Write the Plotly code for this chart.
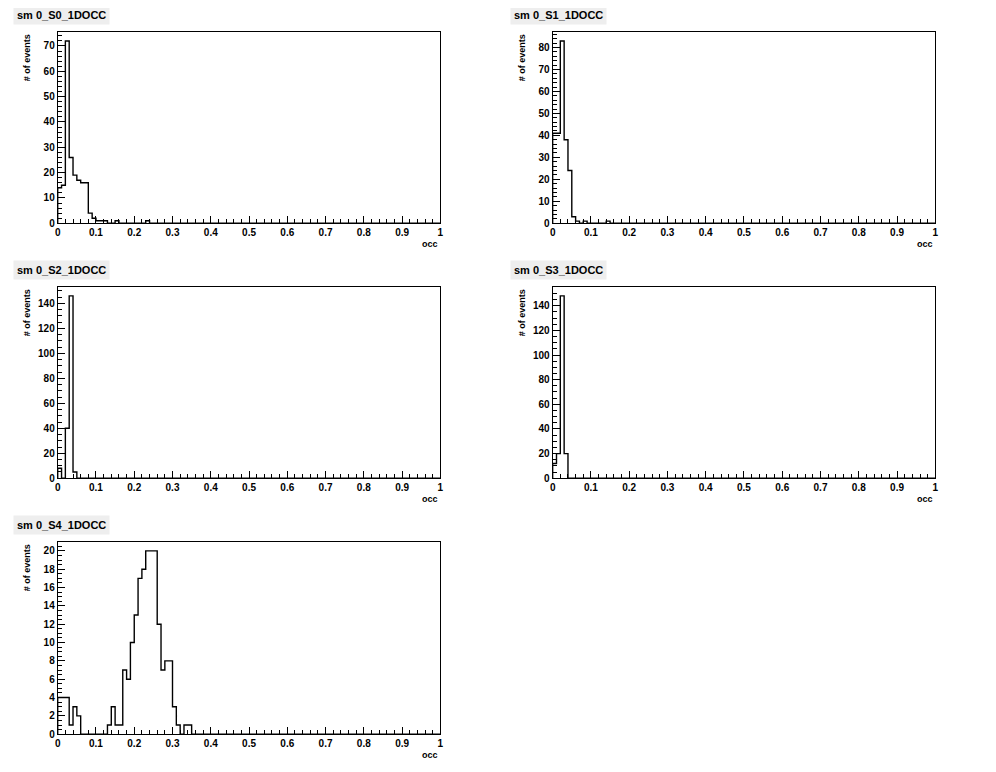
import numpy as np
import plotly.graph_objects as go

# ---------------- data (counts per bin, 100 bins of width 0.01 on [0,1]) ----------------
n_bins = 100
bin_lo, bin_hi = 0.0, 1.0

titles = ["sm 0_S0_1DOCC", "sm 0_S1_1DOCC", "sm 0_S2_1DOCC", "sm 0_S3_1DOCC", "sm 0_S4_1DOCC"]

s0_counts = [14, 15, 72, 26, 19, 17, 16, 16, 4, 2, 1, 1, 1, 0, 0, 1, 0, 0, 0, 0, 0, 0, 0, 1]
s1_counts = [41, 41, 83, 38, 24, 3, 1, 0, 1, 0, 0, 0, 0, 0, 1]
s2_counts = [8, 0, 40, 146, 5]
s3_counts = [12, 20, 148, 20]
s4_counts = [4, 4, 4, 1, 3, 2, 0, 0, 0, 0, 0, 0, 0, 1, 3, 1, 1, 7, 6, 10,
             13, 17, 18, 20, 20, 20, 12, 7, 8, 8, 3, 1, 0, 1, 1]

series = [s0_counts, s1_counts, s2_counts, s3_counts, s4_counts]
y_dticks = [10, 10, 20, 20, 2]
y_minor = [2, 2, 5, 5, 0.5]

x_title = "occ"
y_title = "# of events"

# ---------------- layout geometry ----------------
OFF = 8  # page body margin
W, H = 996 - 2 * OFF, 772 - 2 * OFF
col_px = [(55, 440), (553, 938)]
row_px = [(32, 225), (289, 482), (546, 740)]
title_pos = [(10, 5), (510, 5), (10, 262), (510, 262), (10, 519)]

fig = go.Figure()
font_family = "Liberation Sans, Arial, Helvetica, sans-serif"

for i, counts in enumerate(series):
    r, c = divmod(i, 2)
    full = np.zeros(n_bins)
    full[:len(counts)] = counts
    edges = np.linspace(bin_lo, bin_hi, n_bins + 1)
    # step outline: start at baseline, go through each bin, back to baseline
    xs = np.concatenate([[edges[0]], np.repeat(edges, 2)[1:-1], [edges[-1]]])
    ys = np.concatenate([[0], np.repeat(full, 2), [0]])
    ax = "" if i == 0 else str(i + 1)
    fig.add_trace(go.Scatter(x=xs, y=ys, mode="lines",
                             line=dict(color="black", width=1.4, shape="linear"),
                             xaxis="x" + ax, yaxis="y" + ax, showlegend=False,
                             hoverinfo="skip"))
    x0, x1 = (v - OFF for v in col_px[c])
    yt, yb = (v - OFF for v in row_px[r])
    ymax = 1.05 * max(counts)
    fig.layout["xaxis" + ax] = dict(
        domain=[x0 / W, x1 / W], range=[0, 1], anchor="y" + ax,
        showline=True, linecolor="black", linewidth=1, mirror=True,
        showgrid=False, zeroline=False,
        ticks="inside", ticklen=7, tickcolor="black", tickwidth=1,
        dtick=0.1, tick0=0,
        minor=dict(dtick=0.02, ticks="inside", ticklen=4, tickcolor="black", showgrid=False),
        tickfont=dict(family=font_family, size=10, color="black", weight="bold"),
        fixedrange=True,
    )
    fig.layout["yaxis" + ax] = dict(
        domain=[1 - yb / H, 1 - yt / H], range=[0, ymax], anchor="x" + ax,
        showline=True, linecolor="black", linewidth=1, mirror=True,
        showgrid=False, zeroline=False,
        ticks="inside", ticklen=7, tickcolor="black", tickwidth=1,
        dtick=y_dticks[i], tick0=0,
        minor=dict(dtick=y_minor[i], ticks="inside", ticklen=4, tickcolor="black", showgrid=False),
        tickfont=dict(family=font_family, size=10, color="black", weight="bold"),
        fixedrange=True,
    )
    # axis titles
    fig.add_annotation(text=x_title, xref="x" + ax + " domain", yref="y" + ax + " domain",
                       x=1.0, y=-0.07, xanchor="right", yanchor="top", showarrow=False,
                       font=dict(family=font_family, size=9, color="black", weight="bold"))
    fig.add_annotation(text=y_title, xref="x" + ax + " domain", yref="y" + ax + " domain",
                       x=-0.062, y=1.0, xanchor="right", yanchor="top", textangle=-90,
                       showarrow=False,
                       font=dict(family=font_family, size=9, color="black", weight="bold"))
    # panel title box
    tx, ty = title_pos[i]
    fig.add_annotation(text=titles[i], xref="paper", yref="paper",
                       x=(tx - OFF) / W, y=1 - (ty - OFF) / H, xanchor="left", yanchor="top",
                       showarrow=False, bgcolor="#eeeeee", borderpad=3,
                       font=dict(family=font_family, size=11, color="black", weight="bold"))

fig.update_layout(width=W, height=H, margin=dict(l=0, r=0, t=0, b=0),
                  paper_bgcolor="white", plot_bgcolor="white")
fig.write_html("out.html")
